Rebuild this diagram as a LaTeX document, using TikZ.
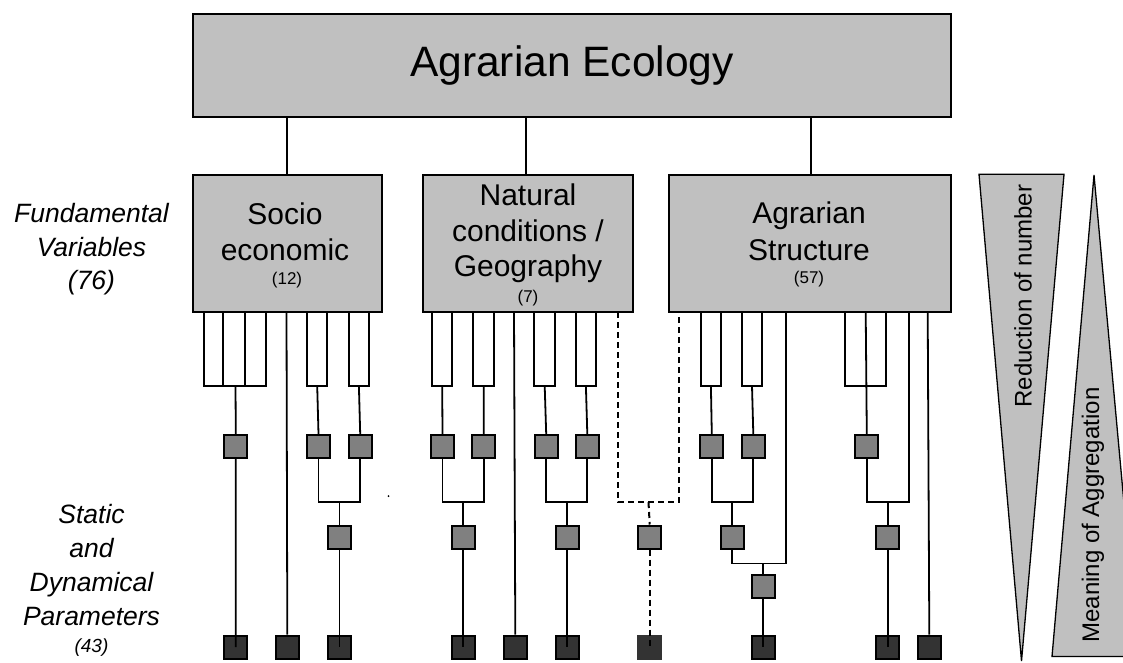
\documentclass[tikz,border=0pt]{standalone}
\usepackage{fontspec}
\setmainfont{Liberation Sans}
\begin{document}
\begin{tikzpicture}[x=1pt,y=-1pt,
  bigbox/.style={draw=black,line width=2pt,fill=boxgray},
  midsq/.style={draw=black,line width=2pt,fill=midgray,minimum size=23pt,inner sep=0pt},
  botsq/.style={draw=black,line width=2pt,fill=darkgray2,minimum size=23pt,inner sep=0pt},
  conn/.style={line width=1.8pt,black},
  dconn/.style={line width=2pt,black,dash pattern=on 6pt off 4pt},
  sidelabel/.style={font=\fontsize{26.5}{34}\selectfont\itshape,align=center},
]
\definecolor{boxgray}{HTML}{C0C0C0}
\definecolor{midgray}{HTML}{808080}
\definecolor{darkgray2}{HTML}{333333}

\useasboundingbox (0,0) rectangle (1123,662);

% ---- top box ----
\node[bigbox,minimum width=758pt,minimum height=103pt,inner sep=0pt] (top) at (572,65.5)
  {\fontsize{42.5}{48}\selectfont Agrarian Ecology};

% ---- category boxes ----
\node[bigbox,minimum width=189pt,minimum height=137pt,inner sep=0pt] (soc) at (287.5,243.5) {};
\node[bigbox,minimum width=210pt,minimum height=137pt,inner sep=0pt] (nat) at (528.3,243.5) {};
\node[bigbox,minimum width=282pt,minimum height=137pt,inner sep=0pt] (agr) at (809.5,243.5) {};

\node[anchor=base,font=\fontsize{30}{36}\selectfont] (socA) at (285,224) {Socio};
\node[anchor=base,font=\fontsize{30}{36}\selectfont] (socB) at (285,260) {economic};
\node[anchor=base,font=\fontsize{17}{20}\selectfont] (socN) at (287,284) {(12)};

\node[anchor=base,font=\fontsize{30}{36}\selectfont] (natA) at (528,205) {Natural};
\node[anchor=base,font=\fontsize{30}{36}\selectfont] (natB) at (528,241) {conditions /};
\node[anchor=base,font=\fontsize{30}{36}\selectfont] (natC) at (528,276) {Geography};
\node[anchor=base,font=\fontsize{17}{20}\selectfont] (natN) at (528,302) {(7)};

\node[anchor=base,font=\fontsize{30}{36}\selectfont] (agrA) at (809,223) {Agrarian};
\node[anchor=base,font=\fontsize{30}{36}\selectfont] (agrB) at (809,260) {Structure};
\node[anchor=base,font=\fontsize{17}{20}\selectfont] (agrN) at (809,283) {(57)};

% links from the top box
\draw[conn] (287.3,117) -- (287.3,175);
\draw[conn] (526,117) -- (526,175);
\draw[conn] (811.3,117) -- (811.3,175);

% ---- side labels ----
\node[sidelabel,anchor=base] (fv1) at (91.5,222) {Fundamental};
\node[sidelabel,anchor=base] (fv2) at (91.5,256) {Variables};
\node[sidelabel,anchor=base] (fv3) at (91.5,289) {(76)};

\node[sidelabel,anchor=base] (sp1) at (91.5,523) {Static};
\node[sidelabel,anchor=base] (sp2) at (91.5,557) {and};
\node[sidelabel,anchor=base] (sp3) at (91.5,591) {Dynamical};
\node[sidelabel,anchor=base] (sp4) at (91.5,625) {Parameters};
\node[anchor=base,font=\fontsize{19}{22}\selectfont\itshape] (sp5) at (91.5,652) {(43)};

% ---- first-level squares ----
\foreach \n/\x in {s1/235.8,s2/318.5,s3/360.2,n1/442.5,n2/483.8,n3/546.2,n4/587.3,a1/711.8,a2/753.3,a3/866.8}
  \node[midsq] (\n) at (\x,446.5) {};

% ---- second-level squares ----
\foreach \n/\x in {t1/339.5,t2/463.3,t3/567,t4/732.3,t5/887.7,t6/649.7}
  \node[midsq] (\n) at (\x,537) {};
\node[midsq] (u1) at (763.3,586.5) {};

% ---- bottom squares ----
\foreach \n/\x in {b1/235.7,b2/287.3,b3/339.5,b4/463.3,b5/515.3,b6/567,b8/763.3,b9/887.7,b10/929.3}
  \node[botsq] (\n) at (\x,647) {};
\node[botsq,draw=darkgray2] (b7) at (649.7,647) {};

% ---- brackets under Socio economic ----
\draw[conn] (204.3,312) -- (204.3,386) -- (266,386) -- (266,312);
\draw[conn] (223,312) -- (223,386);
\draw[conn] (245,312) -- (245,386);
\draw[conn] (235.5,386) -- (s1.north);
\draw[conn] (s1.south) -- (b1.center);
\draw[conn] (286.5,312) -- (b2.north);
\draw[conn] (307,312) -- (307,386) -- (327.3,386) -- (327.3,312);
\draw[conn] (317.2,386) -- (s2.north);
\draw[conn] (348.7,312) -- (348.7,386) -- (369,386) -- (369,312);
\draw[conn] (358.9,386) -- (s3.north);
\draw[conn] (s2.south) -- (318.5,502) -- (360.2,502) -- (s3.south);
\draw[conn] (339.5,502) -- (t1.north);
\draw[conn] (t1.south) -- (b3.center);

% ---- brackets under Natural conditions ----
\draw[conn] (432,312) -- (432,386) -- (452.3,386) -- (452.3,312);
\draw[conn] (442.2,386) -- (n1.north);
\draw[conn] (473.3,312) -- (473.3,386) -- (494,386) -- (494,312);
\draw[conn] (483.7,386) -- (n2.north);
\draw[conn] (n1.south) -- (442.5,502) -- (483.8,502) -- (n2.south);
\draw[conn] (463.3,502) -- (t2.north);
\draw[conn] (t2.south) -- (b4.center);
\draw[conn] (514,312) -- (b5.north);
\draw[conn] (534.3,312) -- (534.3,386) -- (555,386) -- (555,312);
\draw[conn] (544.7,386) -- (n3.north);
\draw[conn] (575.7,312) -- (575.7,386) -- (596,386) -- (596,312);
\draw[conn] (585.9,386) -- (n4.north);
\draw[conn] (n3.south) -- (546.2,502) -- (587.3,502) -- (n4.south);
\draw[conn] (567,502) -- (t3.north);
\draw[conn] (t3.south) -- (b6.center);

% ---- dashed link between Natural conditions and Agrarian Structure ----
\draw[dconn] (618,312) -- (618,502) -- (679,502) -- (679,312);
\draw[dconn] (648.5,502) -- (t6.north);
\draw[dconn] (t6.south) -- (b7.center);

% ---- brackets under Agrarian Structure ----
\draw[conn] (700.7,312) -- (700.7,386) -- (721,386) -- (721,312);
\draw[conn] (710.9,386) -- (a1.north);
\draw[conn] (741.7,312) -- (741.7,386) -- (762.3,386) -- (762.3,312);
\draw[conn] (752,386) -- (a2.north);
\draw[conn] (a1.south) -- (711.8,502) -- (753.3,502) -- (a2.south);
\draw[conn] (732.3,502) -- (t4.north);
\draw[conn] (t4.south) -- (732.3,563.5) -- (786,563.5) -- (786,312);
\draw[conn] (763.3,563.5) -- (u1.north);
\draw[conn] (u1.south) -- (b8.center);
\draw[conn] (844.7,312) -- (844.7,386) -- (886,386) -- (886,312);
\draw[conn] (865.7,312) -- (a3.north);
\draw[conn] (a3.south) -- (866.8,502) -- (908.7,502) -- (908.7,312);
\draw[conn] (887.7,502) -- (t5.north);
\draw[conn] (t5.south) -- (b9.center);
\draw[conn] (927.7,312) -- (b10.north);

% stray dot
\fill (388.5,496) circle (1pt);

% ---- wedges on the right ----
\begin{scope}
\clip (0,0) rectangle (1123,662);
\draw[line width=1.3pt,fill=boxgray] (979,174.3) -- (1064,174.3) -- (1021.5,661) -- cycle;
\draw[line width=1.3pt,fill=boxgray] (1094,175) -- (1052,656.5) -- (1138,656.5) -- cycle;
\end{scope}
\node[rotate=90,font=\fontsize{24}{28}\selectfont] (red) at (1023,296) {Reduction of number};
\node[rotate=90,font=\fontsize{24}{28}\selectfont] (mea) at (1093,515) {Meaning of Aggregation};
\end{tikzpicture}
\end{document}
